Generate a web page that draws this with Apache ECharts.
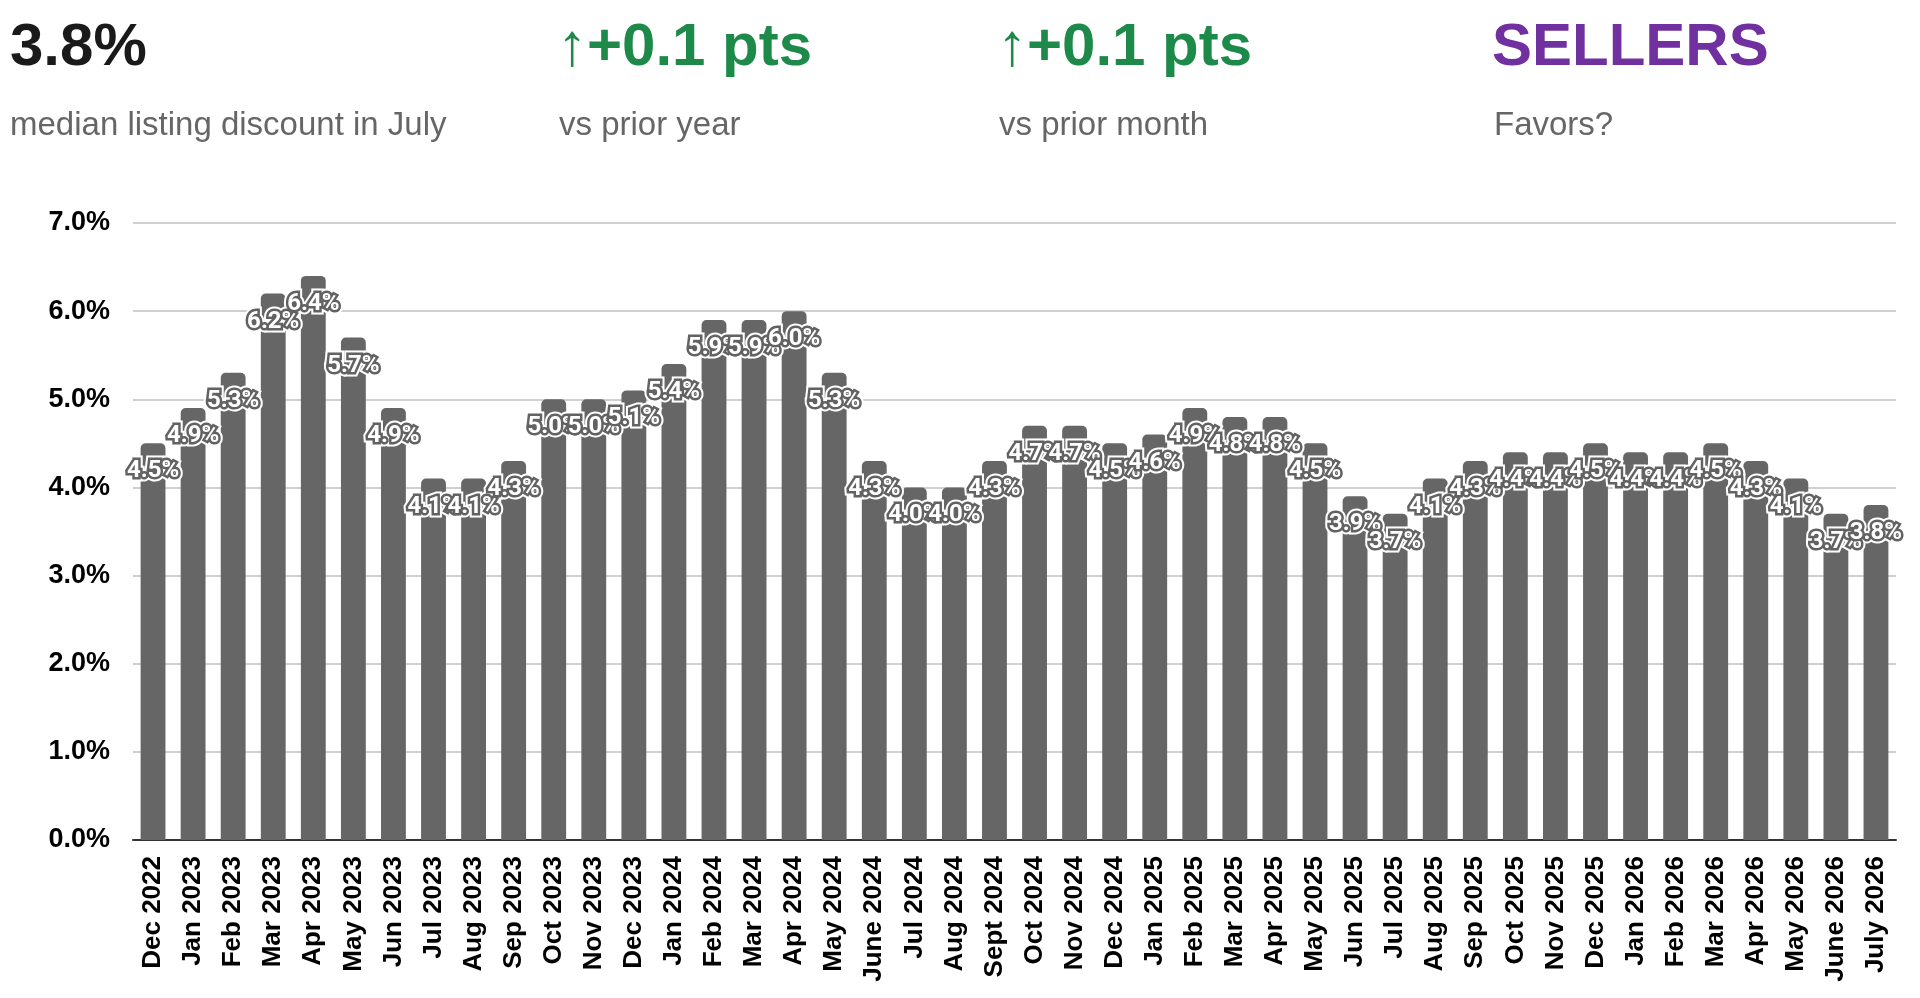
<!DOCTYPE html>
<html>
<head>
<meta charset="utf-8">
<title>Median listing discount</title>
<script src="https://cdn.jsdelivr.net/npm/echarts@6/dist/echarts.min.js"></script>
<style>
    html, body { margin: 0; padding: 0; background: #ffffff; }
    #main { width: 1920px; height: 998px; }
</style>
</head>
<body>
<div id="main"></div>
<script>
// months on the x axis
var months = [
    'Dec 2022', 'Jan 2023', 'Feb 2023', 'Mar 2023', 'Apr 2023', 'May 2023', 'Jun 2023', 'Jul 2023',
    'Aug 2023', 'Sep 2023', 'Oct 2023', 'Nov 2023', 'Dec 2023', 'Jan 2024', 'Feb 2024', 'Mar 2024',
    'Apr 2024', 'May 2024', 'June 2024', 'Jul 2024', 'Aug 2024', 'Sept 2024', 'Oct 2024', 'Nov 2024',
    'Dec 2024', 'Jan 2025', 'Feb 2025', 'Mar 2025', 'Apr 2025', 'May 2025', 'Jun 2025', 'Jul 2025',
    'Aug 2025', 'Sep 2025', 'Oct 2025', 'Nov 2025', 'Dec 2025', 'Jan 2026', 'Feb 2026', 'Mar 2026',
    'Apr 2026', 'May 2026', 'June 2026', 'July 2026'
];
// median listing discount, percent
var discountPct = [
    4.5, 4.9, 5.3, 6.2, 6.4, 5.7, 4.9, 4.1,
    4.1, 4.3, 5.0, 5.0, 5.1, 5.4, 5.9, 5.9,
    6.0, 5.3, 4.3, 4.0, 4.0, 4.3, 4.7, 4.7,
    4.5, 4.6, 4.9, 4.8, 4.8, 4.5, 3.9, 3.7,
    4.1, 4.3, 4.4, 4.4, 4.5, 4.4, 4.4, 4.5,
    4.3, 4.1, 3.7, 3.8
];
// y axis range
var yMin = 0;
var yMax = 7;
var yStep = 1;

// header: big number + caption
var headline = [
    { big: '3.8%', small: 'median listing discount in July', color: '#1a1a1a', x: 10 },
    { big: '\u2191+0.1 pts', small: 'vs prior year', color: '#1e8a4a', x: 557 },
    { big: '\u2191+0.1 pts', small: 'vs prior month', color: '#1e8a4a', x: 997 },
    { big: 'SELLERS', small: 'Favors?', color: '#7030a0', x: 1492 }
];

(function () {
    'use strict';
    var pct = function (v) { return v.toFixed(1) + '%'; };

    var graphics = [];
    for (var i = 0; i < headline.length; i++) {
        var h = headline[i];
        graphics.push({
            type: 'text', left: h.x, top: 18,
            style: { text: h.big, fill: h.color, font: 'bold 60px "Liberation Sans", Arial, sans-serif' }
        });
        graphics.push({
            type: 'text', left: i === 0 ? 10 : h.x + 2, top: 109,
            style: { text: h.small, fill: '#666666', font: '33px "Liberation Sans", Arial, sans-serif' }
        });
    }

    // label look: white digits, grey outline, thin white halo outside
    var labelBase = {
        show: true,
        position: 'top',
        distance: -40,
        fontSize: 24,
        fontWeight: 'bold',
        fontFamily: 'Roboto, "Liberation Sans", sans-serif',
        formatter: function (p) { return pct(p.value); }
    };

    var chart = echarts.init(document.getElementById('main'));
    chart.setOption({
        animation: false,
        graphic: graphics,
        grid: { left: 133, right: 24, top: 223, bottom: 158, containLabel: false },
        xAxis: {
            type: 'category',
            data: months,
            axisTick: { show: false },
            axisLine: { lineStyle: { color: '#333333', width: 2 } },
            axisLabel: {
                rotate: 90, interval: 0, margin: 16,
                color: '#000000', fontWeight: 'bold', fontSize: 26,
                fontFamily: '"Liberation Sans", Arial, sans-serif'
            }
        },
        yAxis: {
            type: 'value',
            min: yMin, max: yMax, interval: yStep,
            axisLine: { show: false },
            axisTick: { show: false },
            splitLine: { lineStyle: { color: '#d0d0d0', width: 2 } },
            axisLabel: {
                margin: 23, color: '#000000', fontWeight: 'bold', fontSize: 27,
                fontFamily: '"Liberation Sans", Arial, sans-serif',
                formatter: function (v) { return pct(v); }
            }
        },
        series: [{
            type: 'bar',
            data: discountPct,
            barWidth: '62%',
            itemStyle: { color: '#666666', borderRadius: [5, 5, 0, 0] },
            label: Object.assign({}, labelBase, {
                color: '#ffffff',
                textBorderColor: '#ffffff',
                textBorderWidth: 9
            })
        }, {
            type: 'bar',
            data: discountPct,
            barWidth: '62%',
            barGap: '-100%',
            itemStyle: { color: 'rgba(0,0,0,0)' },
            label: Object.assign({}, labelBase, {
                color: '#ffffff',
                textBorderColor: '#626262',
                textBorderWidth: 5
            })
        }]
    });
    window.chart = chart;
}());
</script>
</body>
</html>
